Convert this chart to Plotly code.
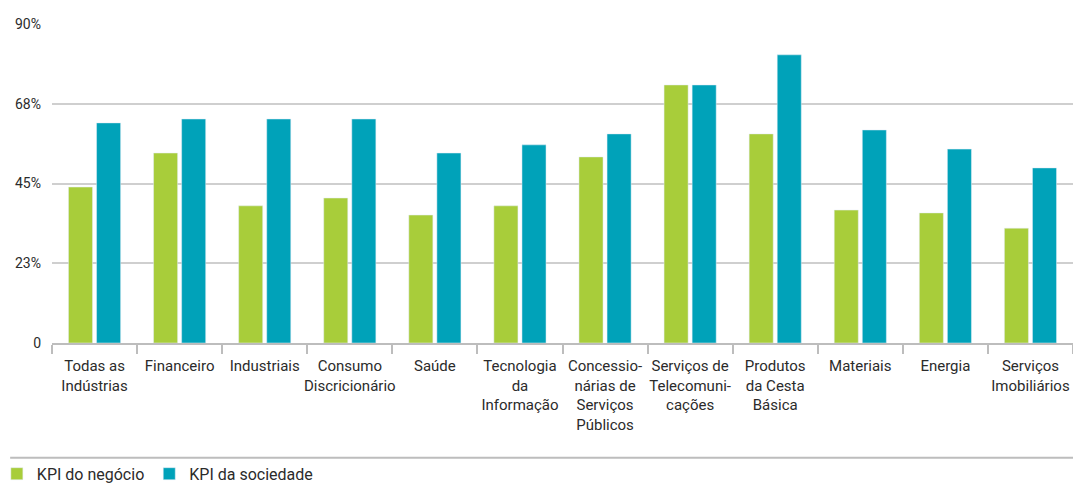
import plotly.graph_objects as go

categories = ["Todas as<br>Indústrias", "Financeiro", "Industriais", "Consumo<br>Discricionário",
              "Saúde", "Tecnologia<br>da<br>Informação", "Concessio-<br>nárias de<br>Serviços<br>Públicos",
              "Serviços de<br>Telecomuni-<br>cações", "Produtos<br>da Cesta<br>Básica", "Materiais",
              "Energia", "Serviços<br>Imobiliários"]
kpi_negocio = [44.0, 53.6, 38.7, 40.9, 36.1, 38.7, 52.5, 72.8, 59.0, 37.5, 36.7, 32.4]
kpi_sociedade = [62.1, 63.2, 63.2, 63.2, 53.6, 55.9, 59.0, 72.8, 81.3, 60.1, 54.7, 49.4]
tick_vals = [0, 22.5, 45, 67.5, 90]
tick_text = ["0", "23%", "45%", "68%", "90%"]

FONT = "Roboto, sans-serif"
fig = go.Figure()
fig.add_trace(go.Bar(x=categories, y=kpi_negocio, name="KPI do negócio", marker_color="#a8cd3a"))
fig.add_trace(go.Bar(x=categories, y=kpi_sociedade, name="KPI da sociedade", marker_color="#00a2b9"))

fig.update_layout(
    width=1073, height=485,
    margin=dict(l=52, r=0, t=24, b=142, autoexpand=False),
    plot_bgcolor="white", paper_bgcolor="white",
    barmode="group", bargap=0.34, bargroupgap=0.143,
    font=dict(family=FONT, size=15, color="#2b2b2b"),
    showlegend=True,
    legend=dict(orientation="h", x=-0.054, y=-0.41, xanchor="left", yanchor="middle",
                bgcolor="rgba(0,0,0,0)",
                font=dict(size=16, color="#2b2b2b"), itemwidth=30, traceorder="normal"),
    xaxis=dict(showline=True, linecolor="#bdbdbd", linewidth=2, ticks="outside",
               tickson="boundaries", ticklen=9, tickcolor="#bdbdbd", tickwidth=2,
               tickangle=0, automargin=False, ticklabelstandoff=8,
               tickfont=dict(size=15, color="#2b2b2b"), range=[-0.5, 11.5]),
    yaxis=dict(range=[0, 90], tickvals=tick_vals, ticktext=tick_text, showgrid=True,
               gridcolor="#cfcfcf", gridwidth=1.5, zeroline=False, automargin=False,
               tickfont=dict(size=14, color="#2b2b2b"), ticks="", ticklabelstandoff=10),
    shapes=[dict(type="line", xref="paper", yref="paper", x0=-0.041, x1=1.0, y0=-0.36, y1=-0.36,
                 line=dict(color="#bdbdbd", width=2))],
)
fig.write_html("out.html")
